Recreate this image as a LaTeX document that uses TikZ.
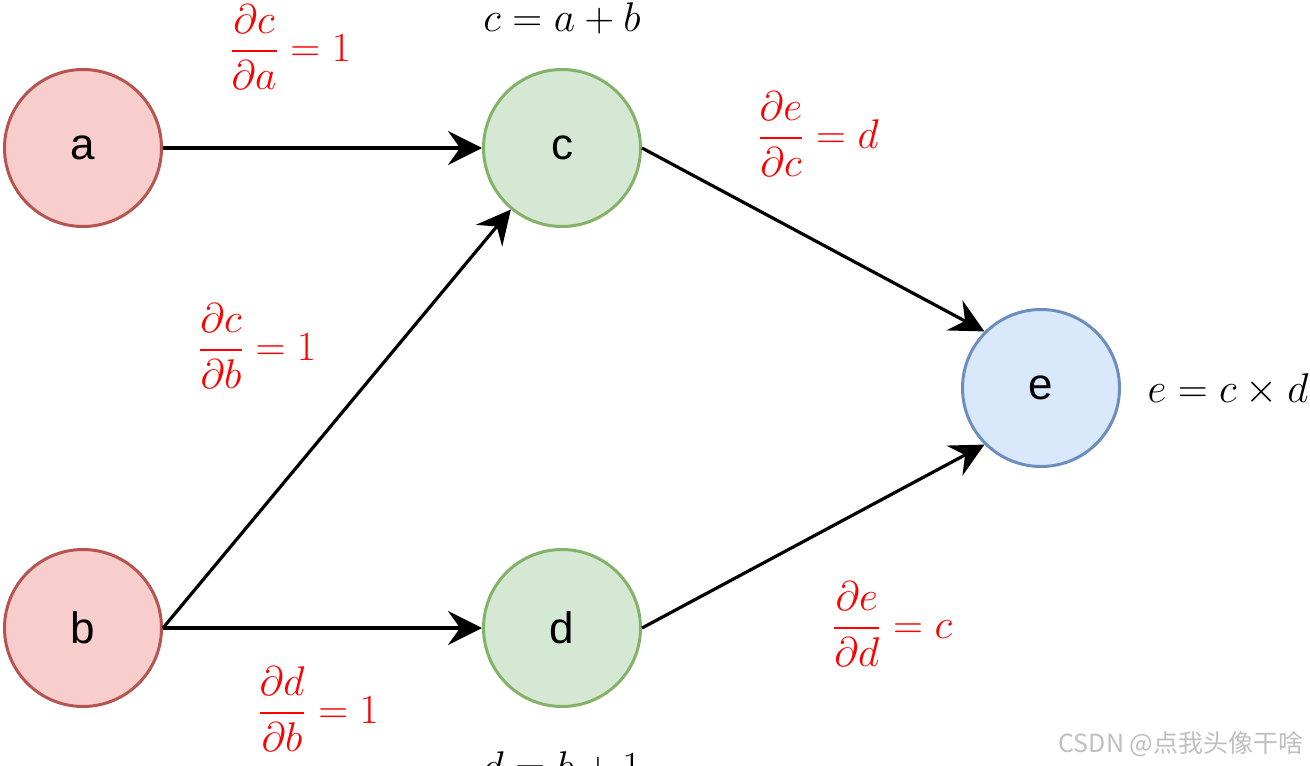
\documentclass[tikz,border=0pt]{standalone}
\usepackage{amsmath}
\usepackage{fontspec}
\usepackage{tikz}
\usetikzlibrary{arrows.meta,shapes}
\newfontfamily\arialfont{Liberation Sans}
\newfontfamily\cjkfont{Noto Sans CJK SC}
\definecolor{redfill}{HTML}{F8CECC}
\definecolor{redline}{HTML}{B85450}
\definecolor{greenfill}{HTML}{D5E8D4}
\definecolor{greenline}{HTML}{82B366}
\definecolor{bluefill}{HTML}{DAE8FC}
\definecolor{blueline}{HTML}{6C8EBF}
\tikzstyle{vertex}=[circle,draw,line width=1.5pt,minimum size=78.5pt,inner sep=0pt,font=\arialfont\fontsize{22}{26}\selectfont]
\tikzstyle{redv}=[fill=redfill,draw=redline]
\tikzstyle{greenv}=[fill=greenfill,draw=greenline]
\tikzstyle{bluev}=[fill=bluefill,draw=blueline]
\tikzstyle{edge} = [draw,line width=1.6pt,-{Stealth[length=17pt,width=17pt,inset=6pt]}]
\tikzstyle{grad}=[text=red,font=\huge,inner sep=0pt]
\tikzstyle{formula}=[font=\huge,inner sep=0pt]

\begin{document}
\begin{tikzpicture}[x=0.5pt,y=-0.5pt]
    \clip (0,0) rectangle (1310,765);
    \useasboundingbox (0,0) rectangle (1310,765);
    % First we draw the vertices
    \foreach \pos/\name/\col in {{(83,148)/a/redv}, {(83,628)/b/redv}, {(562,148)/c/greenv}, {(562,628)/d/greenv}, {(1041,388)/e/bluev}}
        \node[vertex,\col] (\name) at \pos {\name};
    % Connect vertices with edges
    \foreach \source/ \dest in {a/c, b.east/c, b/d, c.east/e.135, d.east/e.225}
        \path[edge] (\source) -- (\dest) ;
    % Formulas of the vertices
    \node[formula] (cform) at (562,18) {$c=a+b$};
    \node[formula] (dform) at (562,767) {$d=b+1$};
    \node[formula] (eform) at (1228,390) {$e=c\times d$};
    % Local gradients on the edges
    \node[grad] (dcda) at (290,47) {$\dfrac{\partial c}{\partial a}=1$};
    \node[grad] (dcdb) at (257,346) {$\dfrac{\partial c}{\partial b}=1$};
    \node[grad] (dddb) at (318,709) {$\dfrac{\partial d}{\partial b}=1$};
    \node[grad] (dedc) at (818,134) {$\dfrac{\partial e}{\partial c}=d$};
    \node[grad] (dedd) at (892,624) {$\dfrac{\partial e}{\partial d}=c$};
    \node[text=black!25,font=\cjkfont\fontsize{12.5}{15}\selectfont] (mark) at (1181,744) {CSDN @点我头像干啥};
\end{tikzpicture}
\end{document}
